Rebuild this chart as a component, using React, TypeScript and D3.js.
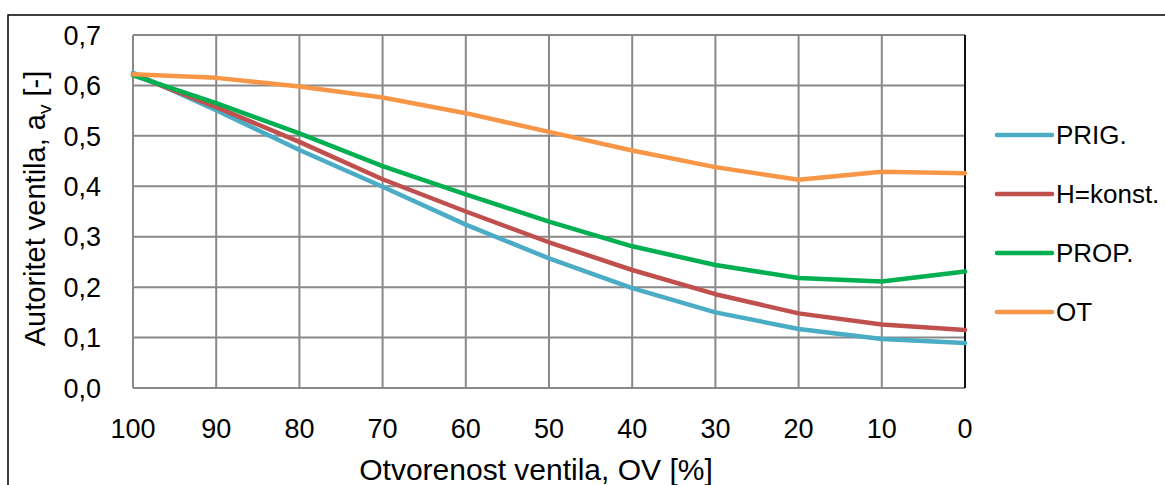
import React from "react";
import * as d3 from "d3";

const openings = [100, 90, 80, 70, 60, 50, 40, 30, 20, 10, 0];
const prig = [0.625, 0.551, 0.472, 0.399, 0.324, 0.257, 0.198, 0.150, 0.117, 0.097, 0.089];
const hKonst = [0.622, 0.557, 0.488, 0.414, 0.350, 0.289, 0.234, 0.186, 0.148, 0.126, 0.115];
const prop = [0.620, 0.565, 0.505, 0.440, 0.384, 0.330, 0.281, 0.244, 0.218, 0.211, 0.231];
const ot = [0.622, 0.615, 0.598, 0.576, 0.545, 0.508, 0.471, 0.438, 0.413, 0.429, 0.426];
const seriesNames = ["PRIG.", "H=konst.", "PROP.", "OT"];
const seriesColors = ["#4BACC6", "#C0504D", "#00B050", "#F79646"];
const yTicks = [0, 0.1, 0.2, 0.3, 0.4, 0.5, 0.6, 0.7];

const W = 1165;
const H = 485;
const FONT = "'Liberation Sans', Arial, sans-serif";

export default function App() {
  const x = d3.scaleLinear().domain([100, 0]).range([133, 965]);
  const y = d3.scaleLinear().domain([0, 0.7]).range([388, 35]);
  const allSeries = [prig, hKonst, prop, ot];
  const line = d3
    .line<number>()
    .x((_, i) => x(openings[i]))
    .y((d) => y(d))
    .curve(d3.curveLinear);

  return (
    <div style={{ position: "fixed", left: 0, top: 0 }}>
      <svg width={W} height={H} style={{ display: "block", background: "#fff" }}>
        <rect x={8} y={15} width={1300} height={600} fill="#fff" stroke="#000" strokeWidth={1.5} />
        {yTicks.map((t) => (
          <line key={"gy" + t} x1={x(100)} x2={x(0)} y1={y(t)} y2={y(t)} stroke="#898989" strokeWidth={2} />
        ))}
        {openings.map((o) => (
          <line key={"gx" + o} x1={x(o)} x2={x(o)} y1={y(0.7)} y2={y(0)} stroke="#898989" strokeWidth={2} />
        ))}
        <line x1={x(0)} x2={x(0)} y1={y(0.7)} y2={y(0)} stroke="#111" strokeWidth={2} />
        {allSeries.map((s, i) => (
          <path key={"s" + i} d={line(s) || ""} fill="none" stroke={seriesColors[i]} strokeWidth={4.5} strokeLinecap="round" strokeLinejoin="round" />
        ))}
        {yTicks.map((t) => (
          <text key={"ty" + t} x={101} y={y(t)} dy="0.36em" textAnchor="end" fontFamily={FONT} fontSize={27} fill="#000">
            {t.toFixed(1).replace(".", ",")}
          </text>
        ))}
        {openings.map((o) => (
          <text key={"tx" + o} x={x(o)} y={438} textAnchor="middle" fontFamily={FONT} fontSize={27} fill="#000">
            {o}
          </text>
        ))}
        <text x={536} y={480} textAnchor="middle" fontFamily={FONT} fontSize={30} fill="#000">
          Otvorenost ventila, OV [%]
        </text>
        <text transform={`translate(45,${(y(0) + y(0.7)) / 2 - 3}) rotate(-90)`} textAnchor="middle" fontFamily={FONT} fontSize={29} fill="#000">
          Autoritet ventila, a<tspan fontSize={19} dy={6}>v</tspan>
          <tspan dy={-6}> [-]</tspan>
        </text>
        {seriesNames.map((n, i) => {
          const ly = 135 + i * 59;
          return (
            <g key={"lg" + i}>
              <line x1={997} x2={1052} y1={ly} y2={ly} stroke={seriesColors[i]} strokeWidth={4.5} strokeLinecap="round" />
              <text x={1056} y={ly} dy="0.36em" fontFamily={FONT} fontSize={26} fill="#000">
                {n}
              </text>
            </g>
          );
        })}
      </svg>
    </div>
  );
}
